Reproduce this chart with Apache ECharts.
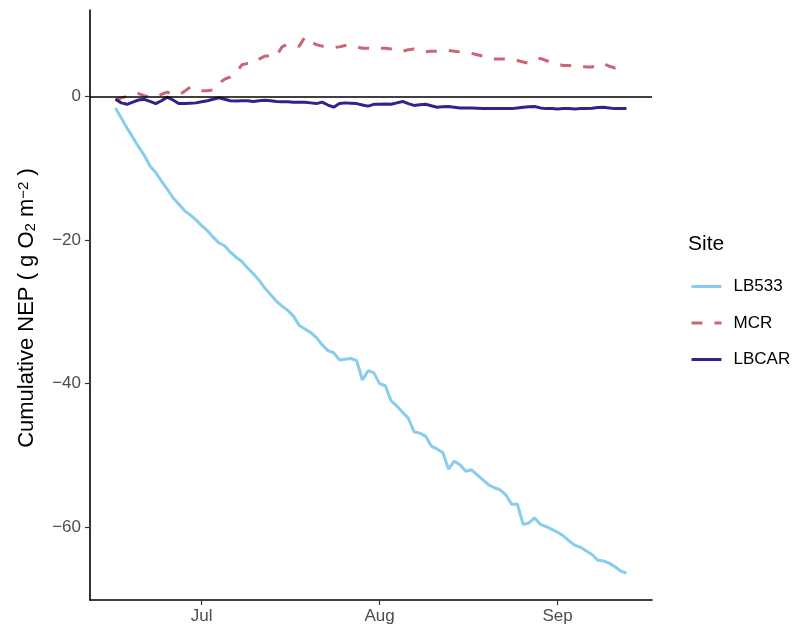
<!DOCTYPE html>
<html>
<head>
<meta charset="utf-8">
<script src="https://cdn.jsdelivr.net/npm/echarts@6/dist/echarts.min.js"></script>
<style>
html,body{margin:0;padding:0;background:#fff;}
#chart{width:801px;height:632px;}
</style>
</head>
<body>
<div id="chart"></div>
<script>
// Daily observations from 16 Jun to 13 Sep
var startDate = '2021-06-16';
var siteNames = ['LB533', 'MCR', 'LBCAR'];
var monthTicks = ['2021-07-01', '2021-08-01', '2021-09-01'];
var monthLabels = ['Jul', 'Aug', 'Sep'];
var yTicks = [-60, -40, -20, 0];

var LB533 = [-1.6,-3.0,-4.4,-5.7,-7.0,-8.2,-9.7,-10.6,-11.8,-12.9,
  -14.1,-15.0,-15.9,-16.5,-17.2,-18.0,-18.7,-19.6,-20.4,-20.8,
  -21.7,-22.4,-23.0,-23.9,-24.7,-25.6,-26.7,-27.6,-28.5,-29.2,
  -29.8,-30.6,-31.9,-32.4,-32.9,-33.6,-34.6,-35.4,-35.7,-36.7,
  -36.6,-36.5,-36.8,-39.5,-38.2,-38.5,-40.0,-40.3,-42.4,-43.1,
  -44.0,-44.8,-46.7,-46.9,-47.3,-48.7,-49.1,-49.6,-51.9,-50.8,
  -51.3,-52.2,-52.0,-52.7,-53.4,-54.1,-54.5,-54.8,-55.5,-56.8,
  -56.8,-59.6,-59.4,-58.7,-59.6,-59.9,-60.3,-60.7,-61.2,-61.9,
  -62.5,-62.8,-63.3,-63.8,-64.6,-64.7,-65.0,-65.5,-66.1,-66.4];

var MCR = [-0.5,-0.2,0.0,0.3,0.4,0.1,-0.1,-0.1,0.3,0.6,
  0.3,0.2,0.7,1.3,1.0,0.8,0.8,0.9,1.8,2.4,
  2.7,3.3,4.4,4.6,4.6,5.2,5.6,5.7,5.6,6.9,
  7.3,7.1,7.0,8.3,7.6,7.2,7.0,6.9,6.8,6.9,
  7.1,7.1,6.9,6.7,6.7,6.6,6.7,6.7,6.6,6.3,
  6.3,6.5,6.6,6.5,6.2,6.3,6.3,6.4,6.4,6.3,
  6.2,6.1,6.0,5.8,5.6,5.3,5.2,5.2,5.2,5.1,
  5.0,4.8,4.6,4.9,5.3,5.0,4.7,4.5,4.3,4.3,
  4.2,4.2,4.1,4.1,4.4,4.6,4.2,3.95,4.1,4.3];

var LBCAR = [-0.4,-0.9,-1.1,-0.8,-0.5,-0.4,-0.7,-1.0,-0.6,-0.1,
  -0.5,-1.0,-1.0,-0.95,-0.9,-0.75,-0.6,-0.4,-0.2,-0.4,
  -0.6,-0.65,-0.6,-0.6,-0.7,-0.6,-0.55,-0.6,-0.7,-0.75,
  -0.75,-0.8,-0.8,-0.8,-0.9,-1.0,-0.8,-1.2,-1.5,-1.0,
  -0.9,-0.95,-1.0,-1.2,-1.35,-1.1,-1.1,-1.05,-1.1,-0.9,
  -0.7,-1.0,-1.25,-1.15,-1.1,-1.3,-1.5,-1.45,-1.4,-1.5,
  -1.6,-1.6,-1.6,-1.65,-1.7,-1.7,-1.7,-1.7,-1.7,-1.7,
  -1.6,-1.5,-1.45,-1.4,-1.6,-1.7,-1.7,-1.75,-1.7,-1.7,
  -1.75,-1.7,-1.7,-1.65,-1.55,-1.5,-1.6,-1.7,-1.7,-1.7];

var DAY = 86400000;
var t0 = Date.parse(startDate + 'T00:00:00Z');
function pairs(vals){ return vals.map(function(v,i){ return [t0 + i*DAY, v]; }); }
var nDays = LB533.length - 1;
var xPad = nDays * DAY * 0.05;
var allVals = LB533.concat(MCR, LBCAR);
var yMinData = Math.min.apply(null, allVals), yMaxData = Math.max.apply(null, allVals);
var yPad = (yMaxData - yMinData) * 0.05;
var tickTimes = monthTicks.map(function(s){ return Date.parse(s + 'T00:00:00Z'); });

var font = 'Liberation Sans, Arial, Helvetica, sans-serif';
var chart = echarts.init(document.getElementById('chart'), null, {renderer: 'canvas'});
chart.setOption({
  useUTC: true,
  animation: false,
  backgroundColor: '#ffffff',
  textStyle: {fontFamily: font},
  grid: {left: 90, right: 149, top: 10, bottom: 32, containLabel: false},
  xAxis: {
    type: 'value',
    min: t0 - xPad,
    max: t0 + nDays * DAY + xPad,
    axisLine: {onZero: false, lineStyle: {color: '#000', width: 1.6}},
    axisTick: {show: true, length: 5, lineStyle: {color: '#333', width: 1.2}, customValues: tickTimes},
    axisLabel: {
      color: '#4d4d4d', fontSize: 17, fontFamily: font, margin: 8,
      customValues: tickTimes,
      formatter: function(v){ var i = tickTimes.indexOf(v); return i >= 0 ? monthLabels[i] : ''; }
    },
    splitLine: {show: false}
  },
  yAxis: {
    type: 'value',
    min: yMinData - yPad,
    max: yMaxData + yPad,
    axisLine: {show: true, lineStyle: {color: '#000', width: 1.6}},
    axisTick: {show: true, length: 5, lineStyle: {color: '#333', width: 1.2}, customValues: yTicks},
    axisLabel: {
      color: '#4d4d4d', fontSize: 17, fontFamily: font, margin: 9,
      customValues: yTicks,
      formatter: function(v){ return String(v).replace('-', '\u2212'); }
    },
    splitLine: {show: false}
  },
  title: {
    text: 'Site', left: 688, top: 234, padding: 0,
    textStyle: {fontSize: 21, fontWeight: 'normal', color: '#000', fontFamily: font}
  },
  legend: {
    orient: 'vertical', left: 690, top: 278, padding: 0,
    itemWidth: 30, itemHeight: 18, itemGap: 19.5,
    itemStyle: {opacity: 0},
    lineStyle: {width: 3},
    textStyle: {fontSize: 17, color: '#000', fontFamily: font, padding: [0,0,0,7]},
    data: siteNames
  },
  graphic: [{
    type: 'text',
    x: 27, y: 308,
    rotation: Math.PI / 2,
    style: {
      text: 'Cumulative NEP ( g O{sub|2} m{sup|\u22122} )',
      font: '22px ' + font,
      fill: '#000',
      align: 'center', verticalAlign: 'middle',
      rich: {
        sub: {fontSize: 15, fontFamily: font, fill: '#000', verticalAlign: 'bottom', lineHeight: 15},
        sup: {fontSize: 15, fontFamily: font, fill: '#000', verticalAlign: 'top', lineHeight: 15}
      }
    }
  }],
  series: [
    {
      name: 'LB533', type: 'line', data: pairs(LB533), showSymbol: false, symbol: 'none',
      lineStyle: {color: '#88CCEE', width: 3}, itemStyle: {color: '#88CCEE'}, z: 3,
      markLine: {
        silent: true, symbol: 'none', label: {show: false},
        lineStyle: {color: '#000', type: 'solid', width: 1.6},
        data: [{yAxis: 0}]
      }
    },
    {
      name: 'MCR', type: 'line', data: pairs(MCR), showSymbol: false, symbol: 'none',
      lineStyle: {color: '#CC6677', width: 3, type: [11, 12]}, itemStyle: {color: '#CC6677'}, z: 3
    },
    {
      name: 'LBCAR', type: 'line', data: pairs(LBCAR), showSymbol: false, symbol: 'none',
      lineStyle: {color: '#332288', width: 3}, itemStyle: {color: '#332288'}, z: 4
    }
  ]
});
</script>
</body>
</html>
